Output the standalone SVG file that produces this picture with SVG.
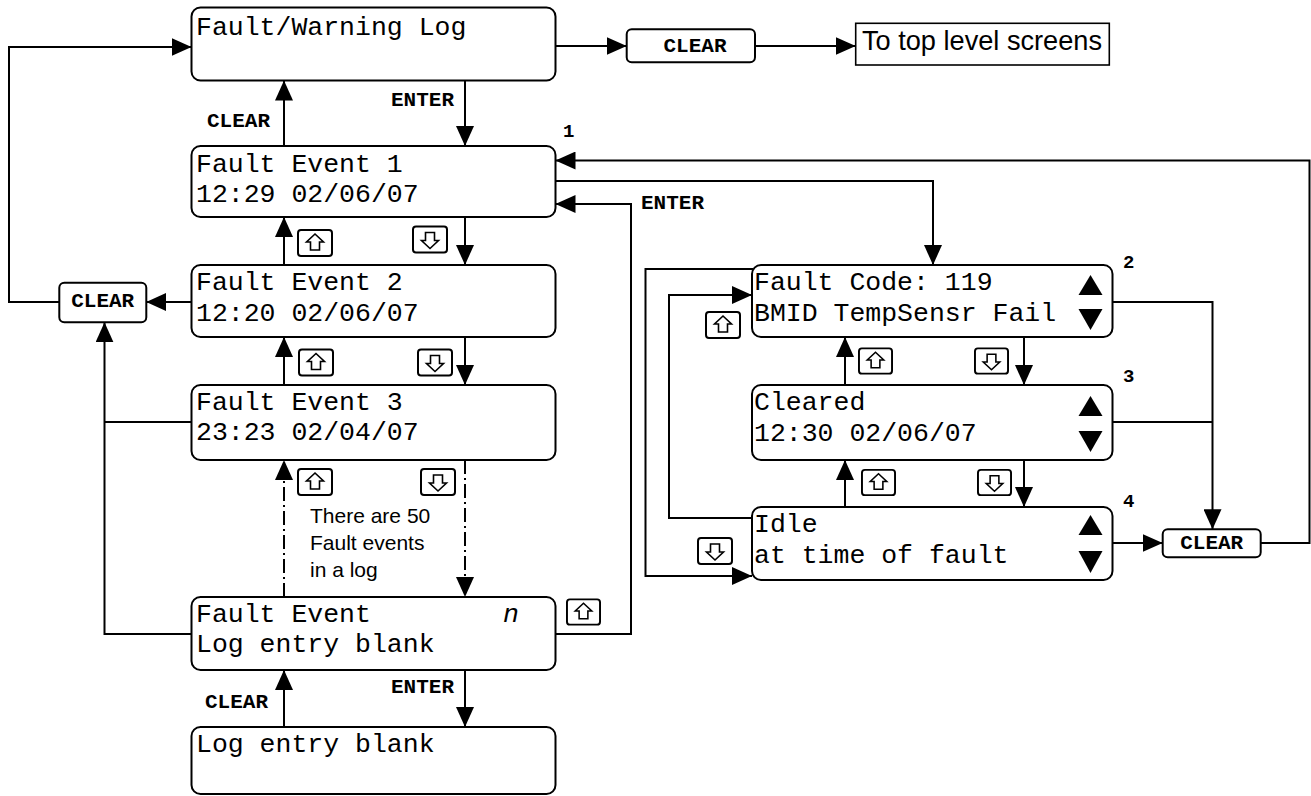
<svg xmlns="http://www.w3.org/2000/svg" xmlns:xlink="http://www.w3.org/1999/xlink" width="1311" height="796" viewBox="0 0 1311 796">
<style>
.box{fill:#fff;stroke:#000;stroke-width:2}
.lcd{font-family:"Liberation Mono","Courier New",monospace;font-size:26.5px;fill:#000}
.lbl{font-family:"Liberation Mono","Courier New",monospace;font-size:21px;font-weight:bold;fill:#000}
.num{font-family:"Liberation Mono","Courier New",monospace;font-size:19px;font-weight:bold;fill:#000}
.sans{font-family:"Liberation Sans",Arial,sans-serif;fill:#000}
.ln{fill:none;stroke:#000;stroke-width:2}
.arr{marker-end:url(#ah)}
.dd{stroke-dasharray:14 4 2 4}
.tri{fill:#000}
</style>
<defs>
<marker id="ah" viewBox="0 0 20 18" markerWidth="20" markerHeight="18" refX="20" refY="9" orient="auto" markerUnits="userSpaceOnUse">
<path d="M0,0 L20,9 L0,18 z" fill="#000"/>
</marker>
<symbol id="kup" viewBox="0 0 36 28">
<rect x="1" y="1" width="34" height="26" rx="3" fill="#fff" stroke="#000" stroke-width="2"/>
<path d="M18,5 L26.5,13 L22.5,13 L22.5,21 L13.5,21 L13.5,13 L9.5,13 Z" fill="#fff" stroke="#000" stroke-width="1.6" stroke-linejoin="miter"/>
</symbol>
<symbol id="kdn" viewBox="0 0 36 28">
<rect x="1" y="1" width="34" height="26" rx="3" fill="#fff" stroke="#000" stroke-width="2"/>
<path d="M18,23 L26.5,15 L22.5,15 L22.5,7 L13.5,7 L13.5,15 L9.5,15 Z" fill="#fff" stroke="#000" stroke-width="1.6" stroke-linejoin="miter"/>
</symbol>
</defs>
<rect width="1311" height="796" fill="#fff"/>

<g id="connectors">
<path class="ln arr" d="M555.5,46 H626.7"/>
<path class="ln arr" d="M755,46 H855.7"/>
<path class="ln arr" d="M465,80.5 V146"/>
<path class="ln arr" d="M284,146 V80.5"/>
<path class="ln arr" d="M59.3,302 H9 V47 H191.5"/>
<path class="ln arr" d="M191.5,302 H146.2"/>
<path class="ln arr" d="M284,265 V217"/>
<path class="ln arr" d="M465,217 V265"/>
<path class="ln arr" d="M284,385 V337"/>
<path class="ln arr" d="M465,337 V385"/>
<path class="ln arr dd" d="M284,597 V460"/>
<path class="ln arr dd" d="M465,460 V597"/>
<path class="ln arr" d="M191.5,634 H104.5 V322.3"/>
<path class="ln" d="M191.5,422 H104.5"/>
<path class="ln arr" d="M555.5,634 H631 V204 H555.5"/>
<path class="ln arr" d="M465,670 V727"/>
<path class="ln arr" d="M284,727 V670"/>
<path class="ln arr" d="M555.5,181 H933 V265"/>
<path class="ln arr" d="M1260.7,543 H1309.5 V160.5 H555.5"/>
<path class="ln arr" d="M845,385 V337"/>
<path class="ln arr" d="M1024,337 V385"/>
<path class="ln arr" d="M845,507 V460"/>
<path class="ln arr" d="M1024,460 V507"/>
<path class="ln arr" d="M753,269 H645.5 V576 H752"/>
<path class="ln arr" d="M752,518 H669 V295 H752"/>
<path class="ln arr" d="M1112.5,302 H1212.5 V529.3"/>
<path class="ln" d="M1112.5,422 H1212.5"/>
<path class="ln arr" d="M1112.5,543 H1162.7"/>
<text class="lbl" x="391" y="106">ENTER</text>
<text class="lbl" x="207" y="127">CLEAR</text>
<text class="lbl" x="641" y="209">ENTER</text>
<text class="lbl" x="391" y="693">ENTER</text>
<text class="lbl" x="205" y="708">CLEAR</text>
<use xlink:href="#kup" x="297" y="229" width="36" height="28"/>
<use xlink:href="#kdn" x="412" y="225" width="36" height="29"/>
<use xlink:href="#kup" x="298" y="348" width="36" height="29"/>
<use xlink:href="#kdn" x="417" y="348" width="36" height="29"/>
<use xlink:href="#kup" x="297" y="468" width="36" height="28"/>
<use xlink:href="#kdn" x="420" y="468" width="36" height="28"/>
<use xlink:href="#kup" x="566" y="597" width="35" height="30"/>
<use xlink:href="#kup" x="705" y="310" width="36" height="30"/>
<use xlink:href="#kup" x="858" y="347" width="35" height="28"/>
<use xlink:href="#kdn" x="974" y="347" width="35" height="28"/>
<use xlink:href="#kup" x="861" y="468" width="35" height="29"/>
<use xlink:href="#kdn" x="977" y="468" width="35" height="29"/>
<use xlink:href="#kdn" x="697" y="537" width="36" height="28"/>
<text class="sans" x="310" y="523" font-size="21">There are 50</text>
<text class="sans" x="310" y="550" font-size="21">Fault events</text>
<text class="sans" x="310" y="577" font-size="21">in a log</text>
</g>

<g id="fault-warning-log">
<rect class="box" x="191.5" y="7.5" width="364" height="73" rx="9"/>
<text class="lcd" x="196" y="35">Fault/Warning Log</text>
</g>
<g id="clear-top">
<rect class="box" x="626.7" y="29.3" width="128.3" height="33" rx="5"/>
<text class="lbl" x="695" y="52" text-anchor="middle" font-size="23">CLEAR</text>
</g>
<g id="top-level">
<rect x="855.7" y="23.3" width="253.6" height="41.7" fill="#fff" stroke="#000" stroke-width="1.6"/>
<text class="sans" x="862" y="50" font-size="28.5" textLength="240" lengthAdjust="spacingAndGlyphs">To top level screens</text>
</g>
<g id="fault-event-1">
<rect class="box" x="191.5" y="146" width="364" height="71" rx="9"/>
<text class="lcd" x="196" y="172">Fault Event 1</text>
<text class="lcd" x="196" y="202">12:29 02/06/07</text>
<text class="num" x="563" y="137">1</text>
</g>
<g id="fault-event-2">
<rect class="box" x="191.5" y="265" width="364" height="72" rx="9"/>
<text class="lcd" x="196" y="290">Fault Event 2</text>
<text class="lcd" x="196" y="321">12:20 02/06/07</text>
</g>
<g id="clear-left">
<rect class="box" x="59.3" y="282.7" width="87" height="39.6" rx="5"/>
<text class="lbl" x="102.7" y="307" text-anchor="middle">CLEAR</text>
</g>
<g id="fault-event-3">
<rect class="box" x="191.5" y="385" width="364" height="75" rx="9"/>
<text class="lcd" x="196" y="410">Fault Event 3</text>
<text class="lcd" x="196" y="440">23:23 02/04/07</text>
</g>
<g id="fault-event-n">
<rect class="box" x="191.5" y="597" width="364" height="73" rx="9"/>
<text class="lcd" x="196" y="622">Fault Event<tspan x="503" font-style="italic">n</tspan></text>
<text class="lcd" x="196" y="652">Log entry blank</text>
</g>
<g id="log-entry-blank">
<rect class="box" x="191.5" y="727" width="364" height="67" rx="9"/>
<text class="lcd" x="196" y="752">Log entry blank</text>
</g>
<g id="fault-code">
<rect class="box" x="752" y="265" width="360.5" height="72" rx="9"/>
<text class="lcd" x="754" y="290">Fault Code: 119</text>
<text class="lcd" x="754" y="321">BMID TempSensr Fail</text>
<path class="tri" d="M1090.5,275 L1102.5,295 L1078.5,295 Z"/>
<path class="tri" d="M1078.5,309 L1102.5,309 L1090.5,330 Z"/>
<text class="num" x="1123" y="268">2</text>
</g>
<g id="cleared">
<rect class="box" x="752" y="385" width="360.5" height="75" rx="9"/>
<text class="lcd" x="754" y="410">Cleared</text>
<text class="lcd" x="754" y="441">12:30 02/06/07</text>
<path class="tri" d="M1090.5,396 L1102.5,416 L1078.5,416 Z"/>
<path class="tri" d="M1078.5,431 L1102.5,431 L1090.5,452 Z"/>
<text class="num" x="1123" y="382">3</text>
</g>
<g id="idle">
<rect class="box" x="752" y="507" width="360.5" height="73" rx="9"/>
<text class="lcd" x="754" y="532">Idle</text>
<text class="lcd" x="754" y="563">at time of fault</text>
<path class="tri" d="M1090.5,515 L1102.5,535 L1078.5,535 Z"/>
<path class="tri" d="M1078.5,551 L1102.5,551 L1090.5,573 Z"/>
<text class="num" x="1123" y="507">4</text>
</g>
<g id="clear-right">
<rect class="box" x="1162.7" y="529.3" width="98" height="28" rx="5"/>
<text class="lbl" x="1211.7" y="549" text-anchor="middle">CLEAR</text>
</g>
</svg>
